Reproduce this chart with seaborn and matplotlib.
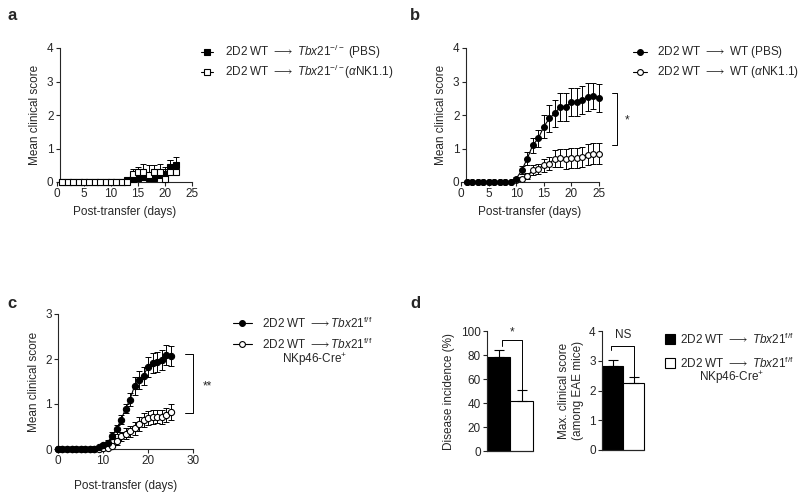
import numpy as np
import matplotlib
matplotlib.use("Agg")
import matplotlib.pyplot as plt
from matplotlib.lines import Line2D
import seaborn as sns

# ---- data ----
days_a = list(range(1, 23))
pbs_a = [0] * 12 + [0.05, 0.08, 0.12, 0.15, 0.12, 0.12, 0.2, 0.25, 0.45, 0.5]
pbs_a_err = [0] * 12 + [0.05, 0.08, 0.1, 0.12, 0.1, 0.1, 0.15, 0.2, 0.2, 0.25]
nk_a = [0] * 13 + [0.25, 0.3, 0.3, 0.2, 0.3, 0.3, 0.1, 0.3, 0.3]
nk_a_err = [0] * 13 + [0.15, 0.15, 0.25, 0.3, 0.2, 0.25, 0.3, 0.35, 0.3]

days_b = list(range(1, 26))
pbs_b = [0] * 9 + [0.1, 0.35, 0.7, 1.1, 1.3, 1.65, 1.9, 2.05, 2.25, 2.25,
                   2.38, 2.38, 2.45, 2.55, 2.57, 2.52]
pbs_b_err = [0] * 9 + [0.05, 0.12, 0.2, 0.22, 0.25, 0.35, 0.4, 0.4, 0.42, 0.42,
                       0.42, 0.42, 0.42, 0.42, 0.4, 0.42]
nk_b = [0] * 9 + [0.05, 0.08, 0.18, 0.35, 0.4, 0.5, 0.55, 0.7, 0.72, 0.7,
                  0.72, 0.72, 0.75, 0.82, 0.85, 0.85]
nk_b_err = [0] * 9 + [0.05, 0.08, 0.1, 0.15, 0.15, 0.2, 0.2, 0.25, 0.28, 0.3,
                      0.3, 0.3, 0.3, 0.3, 0.3, 0.3]

days_c = list(range(0, 26))
ff_c = [0] * 9 + [0.04, 0.08, 0.13, 0.3, 0.44, 0.65, 0.89, 1.1, 1.4, 1.54,
                  1.63, 1.83, 1.92, 1.94, 1.98, 2.09, 2.07]
ff_c_err = [0] * 9 + [0.03, 0.05, 0.08, 0.08, 0.1, 0.1, 0.1, 0.15, 0.2, 0.2,
                      0.2, 0.22, 0.22, 0.22, 0.22, 0.22, 0.22]
cre_c = [0] * 10 + [0.02, 0.03, 0.06, 0.17, 0.28, 0.34, 0.39, 0.46, 0.56,
                    0.65, 0.69, 0.71, 0.72, 0.71, 0.76, 0.83]
cre_c_err = [0] * 10 + [0.02, 0.03, 0.05, 0.08, 0.1, 0.12, 0.12, 0.15, 0.15,
                        0.15, 0.15, 0.15, 0.15, 0.15, 0.15, 0.18]

groups_d = ["Tbx21 f/f", "Tbx21 f/f NKp46-Cre+"]
incidence_d = [78, 42]
incidence_d_err = [6, 9]
maxscore_d = [2.82, 2.25]
maxscore_d_err = [0.22, 0.2]

# ---- style ----
sns.set_style("ticks")
plt.rcParams["font.family"] = ["Liberation Sans", "DejaVu Sans"]
plt.rcParams["mathtext.fontset"] = "custom"
plt.rcParams["mathtext.rm"] = "Liberation Sans"
plt.rcParams["mathtext.it"] = "Liberation Sans:italic"
plt.rcParams["mathtext.fallback"] = "stixsans"
plt.rcParams["axes.linewidth"] = 0.8
FS = 8.5
ARR = r"$\longrightarrow$"
TBX = r"$\mathit{Tbx21}"

W, H = 800, 493
fig = plt.figure(figsize=(W / 100, H / 100), dpi=100)


def px_axes(l, r, t, b):
    return fig.add_axes([l / W, 1 - b / H, (r - l) / W, (b - t) / H])


def style_ax(ax):
    sns.despine(ax=ax)
    ax.tick_params(direction="out", length=3, width=0.8, labelsize=FS, pad=1.5)


def series(ax, x, y, err, filled, marker, both=True, ms=4.2):
    lo = err if both else [0] * len(err)
    ax.errorbar(x, y, yerr=[lo, err], fmt="none", ecolor="black",
                elinewidth=0.7, capsize=2.2, capthick=0.7, clip_on=False)
    sns.lineplot(x=x, y=y, ax=ax, color="black", lw=0.8, marker=marker,
                 markersize=ms, markerfacecolor="black" if filled else "white",
                 markeredgecolor="black", markeredgewidth=0.8, clip_on=False,
                 zorder=3)


def legend_row(x0, x1, y, text, marker, mfc, tx, line=True, ms=4.2):
    yy = 1 - y / H
    fig.add_artist(Line2D([x0 / W, (x0 + x1) / 2 / W, x1 / W], [yy] * 3,
                          color="black", lw=0.8 if line else 0, marker=marker,
                          markevery=[1], mfc=mfc, mec="black", ms=ms, mew=0.8))
    fig.text(tx / W, yy, text, va="center", ha="left", fontsize=FS)


# ---- a ----
ax = px_axes(57, 192, 48, 182)
series(ax, days_a, pbs_a, pbs_a_err, True, "s", both=False, ms=5)
series(ax, days_a, nk_a, nk_a_err, False, "s", both=False, ms=5)
ax.set_xlim(0, 25)
ax.set_ylim(0, 4)
ax.spines["left"].set_position(("data", 0.5))
ax.set_xticks([0, 5, 10, 15, 20, 25])
ax.set_yticks([0, 1, 2, 3, 4])
ax.set_xlabel("Post-transfer (days)", fontsize=FS)
ax.set_ylabel("Mean clinical score", fontsize=FS)
style_ax(ax)
legend_row(201, 213, 52, "2D2 WT " + ARR + " " + TBX + r"^{-/-}$ (PBS)", "s", "black", 225)
legend_row(201, 213, 72, "2D2 WT " + ARR + " " + TBX + r"^{-/-}$($\alpha$NK1.1)", "s", "white", 225)

# ---- b ----
ax = px_axes(461, 599, 48, 182)
series(ax, days_b, nk_b, nk_b_err, False, "o")
series(ax, days_b, pbs_b, pbs_b_err, True, "o")
ax.set_xlim(0, 25)
ax.set_ylim(0, 4)
ax.spines["left"].set_position(("data", 0.85))
ax.set_xticks([0, 5, 10, 15, 20, 25])
ax.set_yticks([0, 1, 2, 3, 4])
ax.set_xlabel("Post-transfer (days)", fontsize=FS)
ax.set_ylabel("Mean clinical score", fontsize=FS)
style_ax(ax)
ax.plot([27.4, 28.3, 28.3, 27.4], [2.66, 2.66, 1.1, 1.1], color="black",
        lw=0.7, clip_on=False)
ax.text(30.1, 1.85, "*", fontsize=FS, ha="center", va="center")
legend_row(633, 647, 52, "2D2 WT " + ARR + " WT (PBS)", "o", "black", 657)
legend_row(633, 647, 72, "2D2 WT " + ARR + r" WT ($\alpha$NK1.1)", "o", "white", 657)

# ---- c ----
ax = px_axes(58, 193, 314, 449)
series(ax, days_c, cre_c, cre_c_err, False, "o", ms=4.5)
series(ax, days_c, ff_c, ff_c_err, True, "o", ms=4.5)
ax.set_xlim(0, 30)
ax.set_ylim(0, 3)
ax.set_xticks([0, 10, 20, 30])
ax.set_yticks([0, 1, 2, 3])
ax.set_xlabel("Post-transfer (days)", fontsize=FS, labelpad=9)
ax.set_ylabel("Mean clinical score", fontsize=FS)
style_ax(ax)
ax.plot([28.2, 30, 30, 28.2], [2.11, 2.11, 0.8, 0.8], color="black",
        lw=0.7, clip_on=False)
ax.text(33.1, 1.38, "**", fontsize=FS, ha="center", va="center")
legend_row(233, 252, 323, "2D2 WT " + ARR + TBX + r"^{\mathrm{f/f}}$", "o", "black", 262)
legend_row(233, 252, 344, "2D2 WT " + ARR + TBX + r"^{\mathrm{f/f}}$", "o", "white", 262)
fig.text(282 / W, 1 - 360 / H, r"NKp46-Cre$^{+}$", va="center", ha="left", fontsize=FS)

# ---- d ----
bar_colors = ["black", "white"]


def bars(ax, vals, errs):
    sns.barplot(x=groups_d, y=vals, hue=groups_d, palette=bar_colors,
                legend=False, width=1.0, edgecolor="black", linewidth=0.8, ax=ax)
    for p in ax.patches:
        p.set_clip_on(False)
    ax.errorbar([0, 1], vals, yerr=[[0, 0], errs], fmt="none", ecolor="black",
                elinewidth=0.8, capsize=3.5, capthick=0.8)
    ax.set_xlim(-0.5, 1.5)
    ax.set_xticks([])
    ax.set_xlabel("")
    style_ax(ax)


ax = px_axes(487, 533, 331, 451)
bars(ax, incidence_d, incidence_d_err)
ax.set_ylim(0, 100)
ax.set_yticks([0, 20, 40, 60, 80, 100])
ax.set_ylabel("Disease incidence (%)", fontsize=FS)
ax.plot([0.15, 0.15, 1.02, 1.02], [87.5, 92.5, 92.5, 51], color="black",
        lw=0.7, clip_on=False)
ax.text(0.59, 99, "*", fontsize=FS, ha="center", va="center")

ax = px_axes(602, 644, 331, 450)
bars(ax, maxscore_d, maxscore_d_err)
ax.set_ylim(0, 4)
ax.set_yticks([0, 1, 2, 3, 4])
ax.set_ylabel("Max. clinical score\n(among EAE mice)", fontsize=FS)
ax.plot([-0.07, -0.07, 1.02, 1.02], [3.36, 3.5, 3.5, 2.45], color="black",
        lw=0.7, clip_on=False)
ax.text(0.5, 3.85, "NS", fontsize=FS, ha="center", va="center")

legend_row(664, 676, 339, "2D2 WT " + ARR + " " + TBX + r"^{\mathrm{f/f}}$", "s", "black", 680,
           line=False, ms=6.5)
legend_row(664, 676, 363, "2D2 WT " + ARR + " " + TBX + r"^{\mathrm{f/f}}$", "s", "white", 680,
           line=False, ms=6.5)
fig.text(699 / W, 1 - 378 / H, r"NKp46-Cre$^{+}$", va="center", ha="left", fontsize=FS)

# ---- panel letters ----
for lab, (x, y) in {"a": (12, 15), "b": (415, 15), "c": (12, 303), "d": (415, 303)}.items():
    fig.text(x / W, 1 - y / H, lab, fontsize=12, fontweight="bold", ha="center", va="center")

fig.savefig("out.png", dpi=100)
